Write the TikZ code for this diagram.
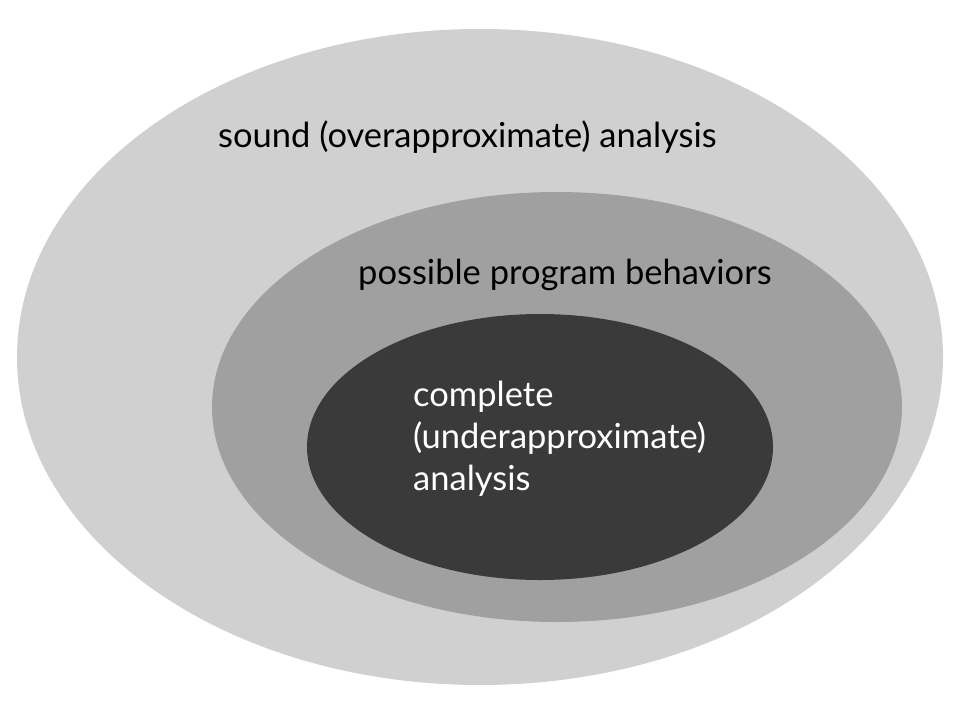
\documentclass[tikz,border=0pt]{standalone}
\usepackage{fontspec}
\usepackage{xcolor}
\usepackage{tikz}
\newfontfamily\labfont{Lato}
\definecolor{outer}{HTML}{D0D0D0}
\definecolor{middle}{HTML}{A0A0A0}
\definecolor{inner}{HTML}{3A3A3A}
\tikzset{
  lab/.style={text=black, font=\labfont\fontsize{34.5}{42}\selectfont, anchor=base west, inner sep=0pt},
  labw/.style={lab, text=white, align=left},
}
\begin{document}
\begin{tikzpicture}[x=1pt,y=-1pt]
  \useasboundingbox (0,0) rectangle (968,717);
  \fill[white] (0,0) rectangle (968,717);
  \fill[outer] (480,357) ellipse [x radius=463pt, y radius=328pt];
  \fill[middle] (557,407) ellipse [x radius=345pt, y radius=215pt];
  \fill[inner] (540,447) ellipse [x radius=233pt, y radius=133pt];
  \node[lab] (sound) at (218,147) {sound (overapproximate) analysis};
  \node[lab] (behav) at (358,284) {possible program behaviors};
  % base anchor sits on the last line
  \node[labw] (compl) at (413,490) {complete\\(underapproximate)\\analysis};
\end{tikzpicture}
\end{document}
